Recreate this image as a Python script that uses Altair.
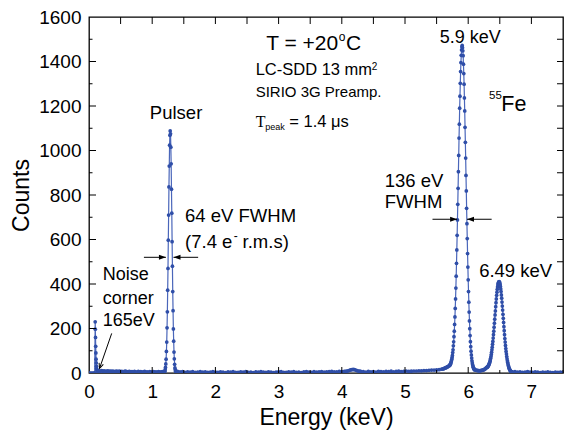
import altair as alt
import pandas as pd

# ---------------- spectrum data (energy keV, counts) ----------------
low_e = [0.00, 0.02, 0.04, 0.06, 0.08, 0.09]
low_c = [0, 0, 0, 0, 0, 1]

noise_e = [0.098, 0.100, 0.103, 0.106, 0.109, 0.112, 0.115, 0.118, 0.121, 0.125, 0.130, 0.135, 0.140, 0.150]
noise_c = [230, 197, 160, 120, 90, 62, 45, 30, 20, 14, 11, 9, 8, 8]

base1_start, base1_step = 0.16, 0.02
base1_c = [9, 8, 11, 8, 10, 7, 8, 10, 7, 9, 7, 9, 6, 7, 9, 6, 8, 6, 7, 5,
           7, 8, 5, 6, 7, 5, 6, 4, 7, 5, 4, 7, 5, 6, 4, 5, 7, 4, 5, 3,
           6, 5, 3, 6, 4, 5, 3, 6, 4, 5, 6, 4]

pulser_start, pulser_step = 1.195, 0.005
pulser_c = [5, 8, 15, 25, 41, 62, 97, 139, 203, 275, 372, 470, 597, 710, 836, 930, 1024, 1068,
            1088,
            1075, 1015, 940, 826, 718, 590, 480, 366, 280, 198, 143, 94, 64, 39, 23, 15, 8, 5]

base2_start, base2_step = 1.40, 0.04
base2_c = [7, 5, 6, 3, 5, 4, 6, 3, 4, 6, 4, 5, 3, 4, 6, 4, 3, 5, 4, 2,
           5, 4, 6, 3, 3, 5, 4, 6, 3, 4, 2, 5, 4, 6, 4, 3, 5, 4, 2, 4,
           5, 6, 3, 3, 5, 4, 6, 3, 4, 2, 5, 6, 4, 3, 6, 4, 5, 6, 4, 5,
           6, 7, 5, 5, 7, 6, 7]

bump_start, bump_step = 4.06, 0.02
bump_c = [7, 8, 10, 12, 14, 15, 16, 15, 13, 11, 9, 8, 7]

base3_start, base3_step = 4.34, 0.04
base3_c = [6, 4, 7, 5, 6, 4, 7, 6, 5, 7, 6, 8, 5, 7, 8, 6, 7, 9, 7, 8,
           9, 9, 10, 10, 11, 11, 12, 13, 13, 14, 15, 17]

katail_start, katail_step = 5.60, 0.01
katail_c = [18, 19, 21, 22, 23, 24, 26, 27, 29, 31, 33]

ka_start, ka_step = 5.705, 0.005
ka_c = [34, 35, 39, 41, 45, 49, 55, 62, 70, 79, 92, 104, 122, 140, 163, 188, 218, 252, 290, 333,
        382, 435, 493, 553, 619, 688, 758, 830, 905, 978, 1056, 1118, 1190, 1244, 1302, 1355, 1395, 1428, 1452, 1466,
        1472,
        1462, 1448, 1426, 1388, 1346, 1298, 1236, 1178, 1104, 1037, 966, 888, 818, 740, 671, 604, 537, 476, 419, 366,
        318, 274, 234, 199, 168, 141, 118, 98, 81, 67, 55, 45, 37, 31, 26, 22, 19, 17, 15, 14]

valley_start, valley_step = 6.12, 0.01
valley_c = [13, 12, 12, 11, 11, 11, 10, 11, 11, 12, 12, 13, 14, 15, 17, 19, 22]

kb_start, kb_step = 6.29, 0.005
kb_c = [24, 25, 26, 27, 29, 31, 33, 36, 39, 43, 47, 53, 59, 66, 74, 83, 93, 104, 116, 129,
        142, 157, 172, 188, 206, 224, 242, 261, 279, 298, 316, 333, 349, 363, 376, 387, 396, 403, 407, 410,
        411,
        409, 405, 398, 389, 378, 366, 351, 336, 319, 301, 283, 264, 246, 227, 208, 190, 172, 155, 139, 124,
        110, 97, 85, 74, 64, 55, 47, 40, 34, 28, 24, 20, 16, 13, 11, 9, 7, 6, 5, 5]

tail_start, tail_step = 6.70, 0.04
tail_c = [5, 6, 4, 5, 3, 4, 6, 4, 3, 5, 4, 2, 4, 3, 5, 3, 2, 4, 3, 4, 3]

# ---------------- axis tick values ----------------
x_major = [0, 1, 2, 3, 4, 5, 6, 7]
x_half = [0.5, 1.5, 2.5, 3.5, 4.5, 5.5, 6.5, 7.5]
x_top = [0.5, 1, 1.5, 2, 2.5, 3, 3.5, 4, 4.5, 5, 5.5, 6, 6.5, 7]
y_major = [0, 200, 400, 600, 800, 1000, 1200, 1400, 1600]
y_minor = [100, 300, 500, 700, 900, 1100, 1300, 1500]
y_right = [100, 200, 300, 400, 500, 600, 700, 800, 900, 1000, 1100, 1200, 1300, 1400, 1500]

# ---------------- build table ----------------
energies, counts = list(low_e), list(low_c)
energies += noise_e
counts += noise_c
for start, step, vals in [(base1_start, base1_step, base1_c), (pulser_start, pulser_step, pulser_c),
                          (base2_start, base2_step, base2_c), (bump_start, bump_step, bump_c),
                          (base3_start, base3_step, base3_c), (katail_start, katail_step, katail_c),
                          (ka_start, ka_step, ka_c), (valley_start, valley_step, valley_c),
                          (kb_start, kb_step, kb_c), (tail_start, tail_step, tail_c)]:
    for i, v in enumerate(vals):
        energies.append(round(start + step * i, 4))
        counts.append(v)
spec = pd.DataFrame({"e": energies, "c": counts}).sort_values("e").reset_index(drop=True)

FONT = "Liberation Sans"
BLUE = "#2f4ea8"
W, H = 474, 356
xs = alt.Scale(domain=[0, 7.5], nice=False, zero=False)
ys = alt.Scale(domain=[0, 1600], nice=False)

base = alt.Chart(spec)
line = base.mark_line(color="#4a66ba", strokeWidth=1.2, clip=True).encode(
    x=alt.X("e:Q", scale=xs, title="Energy (keV)",
            axis=alt.Axis(values=x_major, titleX=W / 2, titleY=51, titleAlign="center",
                          titleBaseline="alphabetic", labelPadding=9, format="d", labelFlush=False)),
    y=alt.Y("c:Q", scale=ys, title="Counts",
            axis=alt.Axis(values=y_major, titleX=-61, titleY=178, titleAngle=270, titleAlign="center",
                          titleBaseline="alphabetic", labelPadding=8, format="d", labelFlush=False)),
    order="e:Q",
)
dots = base.mark_circle(color=BLUE, size=14, opacity=1, clip=True).encode(
    x=alt.X("e:Q", scale=xs), y=alt.Y("c:Q", scale=ys))

# ---------------- inward tick marks ----------------
def xticks(vals, y0, y1):
    return alt.Chart(pd.DataFrame({"e": vals})).mark_rule(color="black", strokeWidth=1).encode(
        x=alt.X("e:Q", scale=xs), y=alt.value(y0), y2=alt.value(y1))

def yticks(vals, x0, x1):
    return alt.Chart(pd.DataFrame({"c": vals})).mark_rule(color="black", strokeWidth=1).encode(
        y=alt.Y("c:Q", scale=ys), x=alt.value(x0), x2=alt.value(x1))

ticks = [xticks(x_major[1:], H, H - 6), xticks(x_half, H, H - 3), xticks(x_top, 0, 7),
         yticks(y_major[1:-1], 0, 7), yticks(y_minor, 0, 3.5), yticks(y_right, W, W - 6)]

# ---------------- annotations ----------------
def label(text, e, c, size, font=FONT, align="left"):
    return alt.Chart(pd.DataFrame({"e": [e], "c": [c], "t": [text]})).mark_text(
        align=align, baseline="alphabetic", fontSize=size, font=font, color="black").encode(
        x=alt.X("e:Q", scale=xs), y=alt.Y("c:Q", scale=ys), text="t:N")

labels = [
    label("T = +20", 2.803, 1452, 21),
    label("o", 3.95, 1492, 12),
    label("C", 4.067, 1452, 21),
    label("LC-SDD 13 mm", 2.637, 1339, 16.5),
    label("2", 4.473, 1362, 10),
    label("SIRIO 3G Preamp.", 2.637, 1242, 15),
    label("T", 2.637, 1104, 16, font="Liberation Serif"),
    label("peak", 2.79, 1090, 9),
    label("= 1.4 \u03bcs", 3.17, 1104, 16.5),
    label("Pulser", 0.963, 1140, 18.5),
    label("5.9 keV", 5.549, 1484, 18),
    label("55", 6.329, 1230, 11.5),
    label("Fe", 6.524, 1179, 21.5),
    label("136 eV", 4.68, 837, 18.5),
    label("FWHM", 4.68, 743, 18.5),
    label("64 eV FWHM", 1.52, 680, 18.5),
    label("(7.4 e", 1.52, 562, 18.5),
    label("-", 2.29, 598, 12),
    label("r.m.s)", 2.43, 562, 18.5),
    label("6.49 keV", 6.173, 431, 18.5),
    label("Noise", 0.218, 418, 18),
    label("corner", 0.218, 310, 18),
    label("165eV", 0.218, 211, 18),
]

# ---------------- arrows ----------------
arrow_e = [5.435, 5.981, 0.869, 1.337, 0.359]
arrow_e2 = [5.825, 6.371, 1.217, 1.727, 0.167]
arrow_c = [691, 691, 520, 520, 178]
arrow_c2 = [691, 691, 520, 520, 21]
shafts = alt.Chart(pd.DataFrame({"e": arrow_e, "e2": arrow_e2, "c": arrow_c, "c2": arrow_c2})).mark_rule(
    color="black", strokeWidth=1).encode(
    x=alt.X("e:Q", scale=xs), x2="e2:Q", y=alt.Y("c:Q", scale=ys), y2="c2:Q")

HEAD = "M0,0L-1,-0.36L-1,0.36Z"
def head(e, c, angle):
    return alt.Chart(pd.DataFrame({"e": [e], "c": [c]})).mark_point(
        shape=HEAD, filled=True, color="black", size=196, angle=angle, opacity=1).encode(
        x=alt.X("e:Q", scale=xs), y=alt.Y("c:Q", scale=ys))

heads = [head(5.825, 691, 0), head(5.981, 691, 180), head(1.217, 520, 0), head(1.337, 520, 180)]
noise_head = alt.Chart(pd.DataFrame({"e": [0.167], "c": [21]})).mark_point(
    shape="M-1,-0.45L0,0L-1,0.45", filled=False, color="black", strokeWidth=1, size=100,
    angle=109.4, opacity=1).encode(x=alt.X("e:Q", scale=xs), y=alt.Y("c:Q", scale=ys))

chart = alt.layer(line, dots, *ticks, *labels, shafts, *heads, noise_head).properties(
    width=W, height=H,
    autosize=alt.AutoSizeParams(type="none"),
    padding={"left": 81, "top": 9, "right": 1, "bottom": 58},
).configure_view(stroke="black", strokeWidth=1.3).configure_axis(
    labelFont=FONT, labelFontSize=19, labelColor="black", ticks=False, tickSize=0, domain=False,
    grid=False, titleFont=FONT, titleFontSize=23, titleFontWeight="normal", titleColor="black",
).configure_text(font=FONT)

chart.save("out.html", embed_options={"renderer": "svg", "actions": False})
